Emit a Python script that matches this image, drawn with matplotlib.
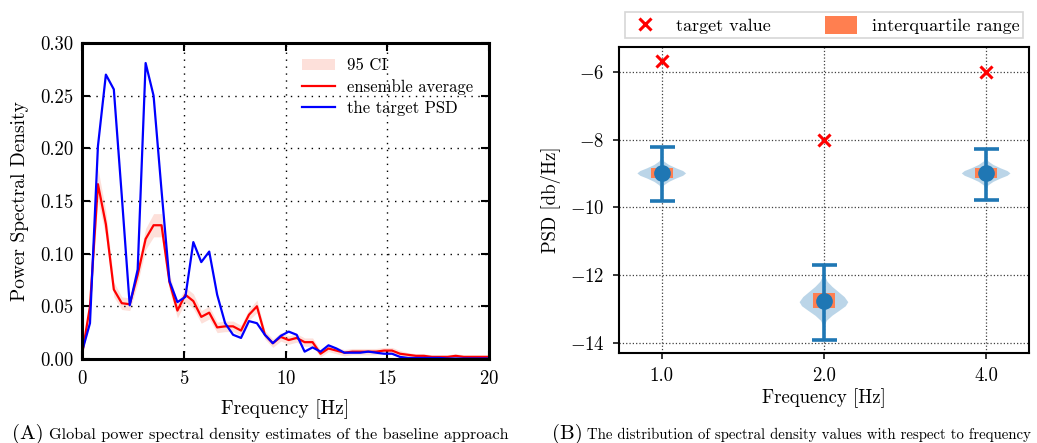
import matplotlib
matplotlib.use("Agg")
import matplotlib.pyplot as plt
import numpy as np

plt.rcParams['font.family'] = 'serif'
plt.rcParams['font.serif'] = ['cmr10']
plt.rcParams['mathtext.fontset'] = 'cm'
plt.rcParams['axes.formatter.use_mathtext'] = True

# ---- panel A data: PSD estimates, bins of 100/256 Hz ----
n_bins = 52
bin_width = 100 / 256
ensemble_avg = [0.004, 0.050, 0.166, 0.128, 0.066, 0.053, 0.052, 0.080, 0.114, 0.127,
                0.127, 0.073, 0.046, 0.061, 0.055, 0.040, 0.044, 0.030, 0.031, 0.031,
                0.027, 0.042, 0.050, 0.023, 0.015, 0.021, 0.018, 0.020, 0.016, 0.016,
                0.005, 0.010, 0.008, 0.006, 0.007, 0.007, 0.007, 0.007, 0.008, 0.008,
                0.005, 0.004, 0.003, 0.003, 0.002, 0.002, 0.002, 0.003, 0.002, 0.002,
                0.002, 0.002]
ci_half = [0.004, 0.008, 0.015, 0.012, 0.007, 0.006, 0.006, 0.008, 0.010, 0.011,
           0.011, 0.008, 0.007, 0.007, 0.007, 0.006, 0.006, 0.005, 0.005, 0.005,
           0.005, 0.005, 0.006, 0.004, 0.004, 0.004, 0.004, 0.004, 0.004, 0.004,
           0.003, 0.003, 0.003, 0.003, 0.003, 0.003, 0.003, 0.003, 0.003, 0.003,
           0.003, 0.002, 0.002, 0.002, 0.002, 0.002, 0.002, 0.002, 0.002, 0.002,
           0.002, 0.002]
target_psd = [0.007, 0.034, 0.202, 0.270, 0.256, 0.155, 0.051, 0.085, 0.281, 0.250,
              0.160, 0.074, 0.054, 0.059, 0.111, 0.092, 0.102, 0.061, 0.034, 0.023,
              0.020, 0.036, 0.034, 0.023, 0.015, 0.022, 0.026, 0.023, 0.007, 0.011,
              0.007, 0.013, 0.010, 0.006, 0.006, 0.006, 0.007, 0.006, 0.005, 0.005,
              0.002, 0.001, 0.001, 0.001, 0.001, 0.001, 0.0005, 0.0005, 0.0005, 0.0005,
              0.0005, 0.0005]

# ---- panel B data ----
freq_labels = ['1.0', '2.0', '4.0']
target_value = [-5.68, -8.01, -6.0]
median = [-9.0, -12.78, -9.0]
whisker_low = [-9.80, -13.91, -9.78]
whisker_high = [-8.21, -11.70, -8.28]
q1 = [-9.13, -12.98, -9.13]
q3 = [-8.85, -12.54, -8.85]
violin_coords = [
    [-9.45, -9.35, -9.25, -9.15, -9.07, -9.0, -8.93, -8.85, -8.75, -8.65, -8.55],
    [-13.5, -13.35, -13.2, -13.05, -12.92, -12.8, -12.65, -12.5, -12.35, -12.2, -12.05, -11.95],
    [-9.45, -9.35, -9.25, -9.15, -9.07, -9.0, -8.93, -8.85, -8.75, -8.65, -8.55],
]
violin_density = [
    [0.02, 0.1, 0.3, 0.6, 0.88, 1.0, 0.88, 0.6, 0.3, 0.1, 0.02],
    [0.02, 0.12, 0.35, 0.65, 0.9, 1.0, 0.85, 0.6, 0.35, 0.15, 0.05, 0.01],
    [0.02, 0.1, 0.3, 0.6, 0.88, 1.0, 0.88, 0.6, 0.3, 0.1, 0.02],
]

fig = plt.figure(figsize=(10.37, 4.43), dpi=100)

# ================= panel A =================
ax1 = fig.add_axes([0.0791, 0.1896, 0.3925, 0.7133])
freq = np.arange(n_bins) * bin_width
avg = np.array(ensemble_avg)
ci = np.array(ci_half)
ax1.fill_between(freq, avg - ci, avg + ci, color='#fde0da', lw=0, label='95 CI')
ax1.plot(freq, avg, color='red', lw=1.6, label='ensemble average')
ax1.plot(freq, target_psd, color='blue', lw=1.6, label='the target PSD')
ax1.set_xlim(0, 20)
ax1.set_ylim(0, 0.30)
ax1.set_xticks([0, 5, 10, 15, 20])
ax1.set_yticks(np.arange(0, 0.31, 0.05))
ax1.yaxis.set_major_formatter(matplotlib.ticker.FormatStrFormatter('%.2f'))
ax1.grid(True, color='k', linestyle=(0, (1, 4)), linewidth=1.0)
for s in ax1.spines.values():
    s.set_linewidth(2.2)
ax1.tick_params(direction='in', top=True, right=True, length=6, width=1.5,
                labelsize=13.5)
ax1.tick_params(axis='x', pad=8)
ax1.tick_params(axis='y', pad=6)
ax1.set_xlabel('Frequency [Hz]', fontsize=14, labelpad=8)
ax1.set_ylabel('Power Spectral Density', fontsize=14, labelpad=8)
ax1.legend(loc='upper right', bbox_to_anchor=(0.997, 1.0), frameon=False,
           fontsize=12, labelspacing=0.35, handlelength=2.0, handletextpad=0.7)

# ================= panel B =================
ax2 = fig.add_axes([0.597, 0.2032, 0.3954, 0.6914])
pos = np.arange(len(freq_labels))
stats = []
for i in range(len(pos)):
    stats.append(dict(coords=np.array(violin_coords[i]), vals=np.array(violin_density[i]),
                      mean=median[i], median=median[i], min=whisker_low[i],
                      max=whisker_high[i]))
vp = ax2.violin(stats, positions=pos, widths=0.3, showextrema=False)
for b in vp['bodies']:
    b.set_facecolor('tab:blue')
    b.set_edgecolor('none')
    b.set_alpha(0.3)

iqr = ax2.bar(pos, np.array(q3) - np.array(q1), bottom=q1, width=0.135,
              color='coral', zorder=2, label='interquartile range')
ax2.errorbar(pos, median,
             yerr=[np.array(median) - np.array(whisker_low),
                   np.array(whisker_high) - np.array(median)],
             fmt='none', ecolor='tab:blue', elinewidth=2.6, capsize=9, capthick=2.6,
             zorder=3)
ax2.plot(pos, median, 'o', color='tab:blue', markersize=11, zorder=4)
tgt = ax2.scatter(pos, target_value, marker='x', color='red', s=75, linewidths=2.2,
                  zorder=5, label='target value')

ax2.set_xticks(pos)
ax2.set_xticklabels(freq_labels)
ax2.set_yticks([-14, -12, -10, -8, -6])
ax2.set_xlim(-0.263, 2.265)
ax2.set_ylim(-14.3, -5.26)
ax2.grid(True, color='0.25', linestyle=':', linewidth=0.9)
ax2.set_axisbelow(True)
for s in ax2.spines.values():
    s.set_linewidth(1.5)
ax2.tick_params(length=4.5, width=1.1, labelsize=13.5, pad=6)
ax2.set_xlabel('Frequency [Hz]', fontsize=13.5, labelpad=2)
ax2.set_ylabel('PSD [db/Hz]', fontsize=13.5, labelpad=6)
leg = ax2.legend([tgt, iqr], ['target value', 'interquartile range'],
                 loc='lower center', bbox_to_anchor=(0.5, 1.0), ncol=2, fontsize=13,
                 fancybox=False, edgecolor='0.8', borderpad=0.2, handlelength=1.8,
                 handleheight=1.2, columnspacing=3.0, handletextpad=0.8)
leg.get_frame().set_linewidth(1.2)

# ================= captions =================
fig.text(12 / 1037, 0.0084, '(A)', fontsize=15, va='baseline')
fig.text(49 / 1037, 0.0084, 'Global power spectral density estimates of the baseline approach',
         fontsize=11.7, va='baseline')
fig.text(552 / 1037, 0.0084, '(B)', fontsize=15, va='baseline')
fig.text(587 / 1037, 0.0084, 'The distribution of spectral density values with respect to frequency',
         fontsize=10.7, va='baseline')

fig.savefig('out.png', dpi=100)
